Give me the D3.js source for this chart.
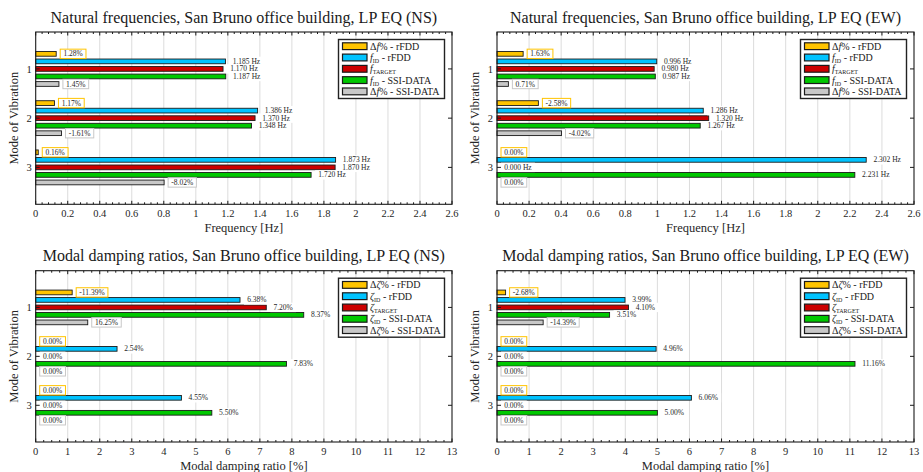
<!DOCTYPE html>
<html>
<head>
<meta charset="utf-8">
<script src="https://cdn.jsdelivr.net/npm/d3@7/dist/d3.min.js"></script>
<style>
  html, body { margin: 0; padding: 0; background: #fff; }
  svg { display: block; }
</style>
</head>
<body>
<svg id="chart" width="923" height="472"></svg>
<script>
// ---- data -------------------------------------------------------------
const modes = [1, 2, 3];

// natural frequencies, NS
const nsDeltaRfdd   = [1.28, 1.17, 0.16];     // Δf% rFDD
const nsFreqRfdd    = [1.185, 1.386, 1.873];  // Hz
const nsFreqTarget  = [1.170, 1.370, 1.870];  // Hz
const nsFreqSsi     = [1.187, 1.348, 1.720];  // Hz
const nsDeltaSsi    = [1.45, -1.61, -8.02];   // Δf% SSI-DATA

// natural frequencies, EW
const ewDeltaRfdd   = [1.63, -2.58, 0.00];
const ewFreqRfdd    = [0.996, 1.286, 2.302];
const ewFreqTarget  = [0.980, 1.320, 0.000];
const ewFreqSsi     = [0.987, 1.267, 2.231];
const ewDeltaSsi    = [0.71, -4.02, 0.00];

// damping ratios, NS (%)
const nsDampDeltaRfdd = [-11.39, 0.00, 0.00];
const nsDampRfdd      = [6.38, 2.54, 4.55];
const nsDampTarget    = [7.20, 0.00, 0.00];
const nsDampSsi       = [8.37, 7.83, 5.50];
const nsDampDeltaSsi  = [16.25, 0.00, 0.00];

// damping ratios, EW (%)
const ewDampDeltaRfdd = [-2.68, 0.00, 0.00];
const ewDampRfdd      = [3.99, 4.96, 6.06];
const ewDampTarget    = [4.10, 0.00, 0.00];
const ewDampSsi       = [3.51, 11.16, 5.00];
const ewDampDeltaSsi  = [-14.39, 0.00, 0.00];

// axis ticks
const freqTicks = [0, 0.2, 0.4, 0.6, 0.8, 1, 1.2, 1.4, 1.6, 1.8, 2, 2.2, 2.4, 2.6];
const freqTickLabels = ["0", "0.2", "0.4", "0.6", "0.8", "1", "1.2", "1.4", "1.6", "1.8", "2", "2.2", "2.4", "2.6"];
const dampTicks = [0, 1, 2, 3, 4, 5, 6, 7, 8, 9, 10, 11, 12, 13];
const dampTickLabels = ["0", "1", "2", "3", "4", "5", "6", "7", "8", "9", "10", "11", "12", "13"];

const seriesColors = ["#ffc400", "#00c3ff", "#cc0000", "#00c800", "#c8c8c8"];

// legend entries: list of [text, style] pieces
const freqLegend = [
  [["Δ", ""], ["f", "i"], ["% - rFDD", ""]],
  [["f", "i"], ["ID", "sub"], [" - rFDD", ""]],
  [["f", "i"], ["TARGET", "sub"]],
  [["f", "i"], ["ID", "sub"], [" - SSI-DATA", ""]],
  [["Δ", ""], ["f", "i"], ["% - SSI-DATA", ""]]
];
const dampLegend = [
  [["Δ", ""], ["ζ", "i"], ["% - rFDD", ""]],
  [["ζ", "i"], ["ID", "sub"], [" - rFDD", ""]],
  [["ζ", "i"], ["TARGET", "sub"]],
  [["ζ", "i"], ["ID", "sub"], [" - SSI-DATA", ""]],
  [["Δ", ""], ["ζ", "i"], ["% - SSI-DATA", ""]]
];

const panels = [
  { left: 35.7, top: 32, right: 452, bottom: 204.3, xmax: 2.6, ticks: freqTicks, tickLabels: freqTickLabels, minor: 0.04,
    title: "Natural frequencies, San Bruno office building, LP EQ (NS)", xlabel: "Frequency [Hz]", kind: "freq",
    series: [nsDeltaRfdd, nsFreqRfdd, nsFreqTarget, nsFreqSsi, nsDeltaSsi], legend: freqLegend },
  { left: 497, top: 32, right: 914, bottom: 204.3, xmax: 2.6, ticks: freqTicks, tickLabels: freqTickLabels, minor: 0.04,
    title: "Natural frequencies, San Bruno office building, LP EQ (EW)", xlabel: "Frequency [Hz]", kind: "freq",
    series: [ewDeltaRfdd, ewFreqRfdd, ewFreqTarget, ewFreqSsi, ewDeltaSsi], legend: freqLegend },
  { left: 35.7, top: 270.7, right: 452, bottom: 442, xmax: 13, ticks: dampTicks, tickLabels: dampTickLabels, minor: 0.25,
    title: "Modal damping ratios, San Bruno office building, LP EQ (NS)", xlabel: "Modal damping ratio [%]", kind: "damp",
    series: [nsDampDeltaRfdd, nsDampRfdd, nsDampTarget, nsDampSsi, nsDampDeltaSsi], legend: dampLegend },
  { left: 497, top: 270.7, right: 914, bottom: 442, xmax: 13, ticks: dampTicks, tickLabels: dampTickLabels, minor: 0.25,
    title: "Modal damping ratios, San Bruno office building, LP EQ (EW)", xlabel: "Modal damping ratio [%]", kind: "damp",
    series: [ewDampDeltaRfdd, ewDampRfdd, ewDampTarget, ewDampSsi, ewDampDeltaSsi], legend: dampLegend }
];

// ---- drawing ----------------------------------------------------------
const FONT = "'Liberation Serif', 'Times New Roman', serif";
const svg = d3.select("#chart").attr("font-family", FONT);
const barOffset = 0.153;   // spacing between bars of a group (mode units)
const barThick = 0.096;    // bar thickness (mode units)

function labelText(kind, idx, v) {
  if (idx === 0 || idx === 4) return v.toFixed(2) + "%";
  return kind === "freq" ? v.toFixed(3) + " Hz" : v.toFixed(2) + "%";
}

panels.forEach(p => {
  const g = svg.append("g");
  const x = d3.scaleLinear().domain([0, p.xmax]).range([p.left, p.right]);
  const y = d3.scaleLinear().domain([0.25, 3.75]).range([p.top, p.bottom]);

  // grid
  g.append("g").selectAll("line").data(p.ticks.slice(1, -1)).join("line")
    .attr("x1", d => x(d)).attr("x2", d => x(d))
    .attr("y1", p.top).attr("y2", p.bottom)
    .attr("stroke", "#dcdcdc").attr("stroke-width", 1);

  // bars
  const barData = [];
  p.series.forEach((arr, si) => {
    arr.forEach((v, mi) => {
      const len = (si === 0 || si === 4) ? Math.abs(v) / 10 : v;
      barData.push({ si, mode: modes[mi], v, len });
    });
  });
  const bh = y(barThick) - y(0);
  g.append("g").selectAll("rect").data(barData.filter(d => d.len > 0)).join("rect")
    .attr("x", x(0))
    .attr("y", d => y(d.mode + (d.si - 2) * barOffset) - bh / 2)
    .attr("width", d => x(d.len) - x(0))
    .attr("height", bh)
    .attr("fill", d => seriesColors[d.si])
    .attr("stroke", "#1a1a1a").attr("stroke-width", 0.9);

  // value labels
  const lg = g.append("g").attr("font-size", 7.5).attr("fill", "#262626");
  barData.forEach(d => {
    const cy = y(d.mode + (d.si - 2) * barOffset);
    const bx = x(d.len) + 4;
    const grp = lg.append("g");
    const bg = grp.append("rect");
    const t = grp.append("text")
      .attr("x", bx + 3.2).attr("y", cy).attr("dy", "0.34em")
      .text(labelText(p.kind, d.si, d.v));
    const tw = t.node().getComputedTextLength();
    const boxed = d.si === 0 || d.si === 4;
    bg.attr("x", bx).attr("y", cy - 4.7).attr("width", tw + 6.4).attr("height", 9.4)
      .attr("fill", "#fff")
      .attr("stroke", boxed ? (d.si === 0 ? "#ffc400" : "#c8c8c8") : "none")
      .attr("stroke-width", 1);
  });

  // frame ticks (inward, mirrored on top/right)
  const minorVals = d3.range(0, p.xmax + 1e-9, p.minor).filter(v => !p.ticks.some(t => Math.abs(t - v) < 1e-6));
  const tk = g.append("g").attr("stroke", "#1a1a1a").attr("stroke-width", 1);
  p.ticks.forEach(v => {
    tk.append("line").attr("x1", x(v)).attr("x2", x(v)).attr("y1", p.bottom).attr("y2", p.bottom - 3.5);
    tk.append("line").attr("x1", x(v)).attr("x2", x(v)).attr("y1", p.top).attr("y2", p.top + 3.5);
  });
  minorVals.forEach(v => {
    tk.append("line").attr("x1", x(v)).attr("x2", x(v)).attr("y1", p.bottom).attr("y2", p.bottom - 2);
    tk.append("line").attr("x1", x(v)).attr("x2", x(v)).attr("y1", p.top).attr("y2", p.top + 2);
  });
  modes.forEach(m => {
    tk.append("line").attr("x1", p.left).attr("x2", p.left + 4).attr("y1", y(m)).attr("y2", y(m));
    tk.append("line").attr("x1", p.right).attr("x2", p.right - 4).attr("y1", y(m)).attr("y2", y(m));
  });

  // legend
  const legW = 106, legRowH = 11.3;
  const legX = p.right - 7.5 - legW, legY = p.top + 7.5;
  const leg = g.append("g");
  leg.append("rect").attr("x", legX).attr("y", legY).attr("width", legW).attr("height", legRowH * 5 + 2.5)
    .attr("fill", "#fff").attr("stroke", "#222").attr("stroke-width", 1.4);
  p.legend.forEach((pieces, i) => {
    const cy = legY + 6.7 + i * legRowH;
    leg.append("rect").attr("x", legX + 4).attr("y", cy - 3.4).attr("width", 24.5).attr("height", 6.8)
      .attr("fill", seriesColors[i]).attr("stroke", "#1a1a1a").attr("stroke-width", 1.2);
    const t = leg.append("text").attr("x", legX + 31.5).attr("y", cy).attr("dy", "0.35em")
      .attr("font-size", 10).attr("fill", "#1a1a1a");
    let shifted = false;
    pieces.forEach(([txt, st]) => {
      const ts = t.append("tspan").text(txt);
      if (st === "i") ts.attr("font-style", "italic");
      if (st === "sub") { ts.attr("font-size", 6).attr("dy", 2); shifted = true; }
      else if (shifted) { ts.attr("dy", -2); shifted = false; }
    });
  });

  // frame
  g.append("rect").attr("x", p.left).attr("y", p.top).attr("width", p.right - p.left).attr("height", p.bottom - p.top)
    .attr("fill", "none").attr("stroke", "#1a1a1a").attr("stroke-width", 1.1);

  // tick labels
  const tl = g.append("g").attr("font-size", 10.5).attr("fill", "#262626").attr("text-anchor", "middle");
  p.ticks.forEach((v, i) => {
    tl.append("text").attr("x", x(v)).attr("y", p.bottom + 13).text(p.tickLabels[i]);
  });
  modes.forEach(m => {
    g.append("text").attr("x", p.left - 4).attr("y", y(m)).attr("dy", "0.35em")
      .attr("text-anchor", "end").attr("font-size", 10.5).attr("fill", "#262626").text(m);
  });

  // titles
  const cx = (p.left + p.right) / 2;
  g.append("text").attr("x", cx).attr("y", p.top - 9.5).attr("text-anchor", "middle")
    .attr("font-size", 16).attr("fill", "#1a1a1a").text(p.title);
  g.append("text").attr("x", cx).attr("y", p.bottom + 27.5).attr("text-anchor", "middle")
    .attr("font-size", 12.5).attr("fill", "#262626").text(p.xlabel);
  const ly = (p.top + p.bottom) / 2;
  g.append("text").attr("transform", `translate(${p.left - 18},${ly}) rotate(-90)`)
    .attr("text-anchor", "middle").attr("font-size", 12.5).attr("fill", "#262626").text("Mode of Vibration");
});
</script>
</body>
</html>
